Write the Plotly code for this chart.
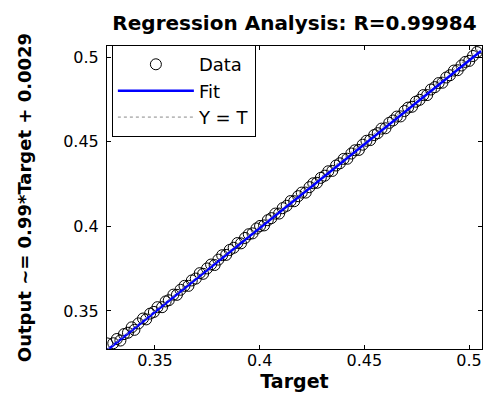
import plotly.graph_objects as go

# ---- data ----
targets = [0.3272, 0.3301, 0.3318, 0.3335, 0.3352, 0.3371, 0.3389, 0.3402, 0.3421, 0.3443,
           0.3458, 0.3477, 0.3495, 0.3512, 0.3534, 0.3551, 0.3566, 0.3588, 0.3605, 0.3622,
           0.3641, 0.3660, 0.3676, 0.3695, 0.3714, 0.3730, 0.3749, 0.3768, 0.3785, 0.3803,
           0.3821, 0.3840, 0.3857, 0.3876, 0.3894, 0.3911, 0.3930, 0.3948, 0.3966, 0.3985,
           0.4002, 0.4021, 0.4039, 0.4056, 0.4075, 0.4093, 0.4110, 0.4129, 0.4148, 0.4165,
           0.4184, 0.4201, 0.4220, 0.4238, 0.4256, 0.4274, 0.4292, 0.4311, 0.4328, 0.4347,
           0.4365, 0.4383, 0.4401, 0.4419, 0.4438, 0.4455, 0.4474, 0.4492, 0.4510, 0.4528,
           0.4547, 0.4564, 0.4582, 0.4601, 0.4619, 0.4637, 0.4655, 0.4673, 0.4692, 0.4709,
           0.4728, 0.4746, 0.4764, 0.4782, 0.4800, 0.4818, 0.4837, 0.4855, 0.4873, 0.4891,
           0.4909, 0.4928, 0.4946, 0.4964, 0.4982, 0.5001, 0.5019, 0.5038, 0.5057]
outputs = [0.3308, 0.3309, 0.3334, 0.3325, 0.3363, 0.3371, 0.3403, 0.3388, 0.3426, 0.3455,
           0.3450, 0.3484, 0.3494, 0.3522, 0.3522, 0.3556, 0.3563, 0.3596, 0.3595, 0.3625,
           0.3648, 0.3648, 0.3680, 0.3691, 0.3723, 0.3719, 0.3751, 0.3774, 0.3771, 0.3803,
           0.3829, 0.3831, 0.3860, 0.3873, 0.3901, 0.3899, 0.3931, 0.3953, 0.3958, 0.3987,
           0.4002, 0.4005, 0.4036, 0.4048, 0.4075, 0.4075, 0.4107, 0.4121, 0.4149, 0.4148,
           0.4178, 0.4199, 0.4199, 0.4231, 0.4254, 0.4257, 0.4286, 0.4299, 0.4325, 0.4327,
           0.4359, 0.4372, 0.4398, 0.4399, 0.4430, 0.4449, 0.4451, 0.4482, 0.4505, 0.4509,
           0.4539, 0.4550, 0.4577, 0.4579, 0.4611, 0.4625, 0.4648, 0.4649, 0.4681, 0.4701,
           0.4706, 0.4736, 0.4747, 0.4775, 0.4775, 0.4808, 0.4822, 0.4846, 0.4848, 0.4879,
           0.4892, 0.4920, 0.4922, 0.4950, 0.4971, 0.4977, 0.5006, 0.5029, 0.5055]
fit_slope = 0.99
fit_intercept = 0.0029
r_value = 0.99984
x_tick_vals = [0.35, 0.4, 0.45, 0.5]
x_tick_text = ["0.35", "0.4", "0.45", "0.5"]
y_tick_vals = [0.35, 0.4, 0.45, 0.5]
y_tick_text = ["0.35", "0.4", "0.45", "0.5"]

line_x = [min(targets), max(targets)]
fit_y = [fit_slope * t + fit_intercept for t in line_x]

fig = go.Figure()
fig.add_trace(go.Scatter(
    x=targets, y=outputs, mode="markers", name="Data",
    marker=dict(symbol="circle-open", size=11, color="black", line=dict(width=1, color="black")),
))
fig.add_trace(go.Scatter(
    x=line_x, y=fit_y, mode="lines", name="Fit",
    line=dict(color="#0000ff", width=2.5),
))
fig.add_trace(go.Scatter(
    x=line_x, y=line_x, mode="lines", name="Y = T",
    line=dict(color="#888888", width=1, dash="dot"),
))

axis_common = dict(
    showline=True, linecolor="black", linewidth=1, mirror="allticks",
    ticks="inside", ticklen=4, tickcolor="black", tickwidth=1,
    showgrid=False, zeroline=False,
    tickfont=dict(family="DejaVu Sans", size=16, color="black"),
)

fig.update_layout(
    width=496, height=401,
    margin=dict(l=99, r=22, t=38, b=60),
    paper_bgcolor="white", plot_bgcolor="white",
    title=dict(
        text=f"Regression Analysis: R={r_value}",
        x=0.5, xref="paper", xanchor="center",
        y=1 - 15 / 401, yref="container", yanchor="middle",
        font=dict(family="DejaVu Sans", size=20, color="black", weight="bold"),
    ),
    xaxis=dict(
        range=[0.3271, 0.5062], tickvals=x_tick_vals, ticktext=x_tick_text,
        ticklabelstandoff=-3,
        title=dict(text="Target", standoff=0,
                   font=dict(family="DejaVu Sans", size=19, color="black", weight="bold")),
        **axis_common,
    ),
    yaxis=dict(
        range=[0.3275, 0.5065], tickvals=y_tick_vals, ticktext=y_tick_text,
        ticklabelstandoff=4,
        title=dict(text=f"Output ~= {fit_slope}*Target + {fit_intercept}", standoff=26,
                   font=dict(family="DejaVu Sans", size=18, color="black", weight="bold")),
        **axis_common,
    ),
    showlegend=True,
    legend=dict(
        x=0.013, y=1.003, xanchor="left", yanchor="top",
        bgcolor="white", bordercolor="black", borderwidth=1,
        font=dict(family="DejaVu Sans", size=18, color="black"),
        itemwidth=76,
    ),
)

fig.write_html("out.html")
